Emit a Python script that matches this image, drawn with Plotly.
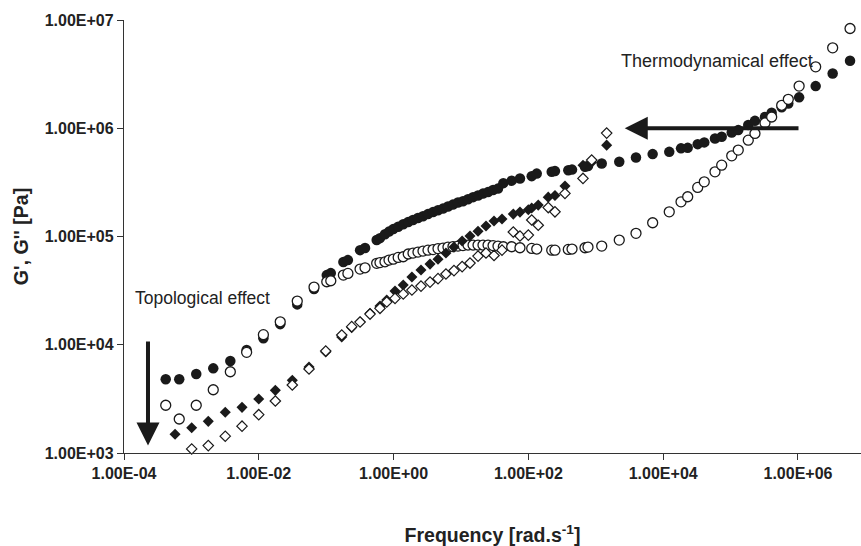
import plotly.graph_objects as go

# ---- data ----
# circles: G' (filled) and G'' (open) share frequencies
freq_c = [4.16e-4, 6.6e-4, 1.18e-3, 2.11e-3, 3.78e-3, 6.6e-3, 1.17e-2, 2.08e-2, 3.72e-2, 6.6e-2,
          0.102, 0.117, 0.18, 0.21, 0.318, 0.377, 0.561, 0.628, 0.745, 0.855,
          0.99, 1.17, 1.39, 1.65, 1.94, 2.30, 2.73, 3.24, 3.85, 4.56,
          5.41, 6.41, 7.60, 9.02, 10.7, 12.7, 15.1, 17.9, 21.2, 25.2,
          29.9, 35.4, 42.5, 56.5, 75, 112, 133, 222, 248, 391,
          444, 692, 766, 1225, 2230, 3950, 6980, 12300, 18400, 23100,
          32500, 40700, 58700, 73800, 1.04e5, 1.30e5, 1.83e5, 2.30e5, 3.24e5, 4.07e5,
          5.73e5, 7.18e5, 1.04e6, 1.83e6, 3.27e6, 5.92e6]
g_fill_c = [4.80e3, 4.80e3, 5.36e3, 6.05e3, 7.08e3, 8.93e3, 1.15e4, 1.55e4, 2.36e4, 3.27e4,
            4.40e4, 4.59e4, 5.81e4, 6.05e4, 7.48e4, 7.82e4, 9.27e4, 9.66e4, 1.05e5, 1.11e5,
            1.17e5, 1.23e5, 1.30e5, 1.36e5, 1.42e5, 1.48e5, 1.54e5, 1.61e5, 1.68e5, 1.75e5,
            1.81e5, 1.89e5, 1.97e5, 2.06e5, 2.12e5, 2.21e5, 2.31e5, 2.39e5, 2.49e5, 2.57e5,
            2.69e5, 2.77e5, 3.11e5, 3.28e5, 3.43e5, 3.61e5, 3.81e5, 3.96e5, 4.02e5, 4.10e5,
            4.15e5, 4.40e5, 4.47e5, 4.73e5, 4.90e5, 5.37e5, 5.77e5, 6.05e5, 6.52e5, 6.59e5,
            7.13e5, 7.40e5, 8.05e5, 8.34e5, 9.14e5, 9.61e5, 1.07e6, 1.17e6, 1.27e6, 1.39e6,
            1.56e6, 1.69e6, 1.93e6, 2.45e6, 3.21e6, 4.20e6]
g_open_c = [2.76e3, 2.06e3, 2.76e3, 3.84e3, 5.63e3, 8.51e3, 1.24e4, 1.63e4, 2.53e4, 3.41e4,
            3.82e4, 3.90e4, 4.40e4, 4.56e4, 5.00e4, 5.14e4, 5.65e4, 5.74e4, 5.84e4, 6.05e4,
            6.18e4, 6.41e4, 6.50e4, 6.89e4, 7.03e4, 7.18e4, 7.33e4, 7.48e4, 7.57e4, 7.73e4,
            7.82e4, 7.98e4, 8.07e4, 8.15e4, 8.24e4, 8.34e4, 8.34e4, 8.34e4, 8.34e4, 8.34e4,
            8.24e4, 8.15e4, 8.04e4, 8.04e4, 7.87e4, 7.76e4, 7.66e4, 7.48e4, 7.48e4, 7.60e4,
            7.66e4, 7.87e4, 7.98e4, 8.15e4, 9.27e4, 1.07e5, 1.34e5, 1.69e5, 2.09e5, 2.33e5,
            2.84e5, 3.20e5, 3.96e5, 4.56e5, 5.56e5, 6.28e5, 7.76e5, 8.95e5, 1.12e6, 1.27e6,
            1.63e6, 1.85e6, 2.45e6, 3.69e6, 5.53e6, 8.35e6]

# diamonds: G' (filled) and G'' (open) share frequencies
freq_d = [5.72e-4, 1.01e-3, 1.78e-3, 3.18e-3, 5.64e-3, 9.98e-3, 1.76e-2, 3.14e-2, 5.56e-2, 9.84e-2,
          0.170, 0.239, 0.318, 0.447, 0.628, 0.791, 1.05, 1.39, 1.87, 2.55,
          3.47, 4.56, 5.98, 7.87, 10.4, 13.6, 17.9, 23.5, 30.9, 40.6,
          59.7, 75.0, 99.8, 112, 140, 197, 248, 349, 646, 869, 1450]
g_fill_d = [1.49e3, 1.71e3, 1.96e3, 2.38e3, 2.64e3, 3.15e3, 3.79e3, 4.69e3, 6.22e3, 8.57e3,
            1.18e4, 1.44e4, 1.63e4, 1.95e4, 2.28e4, 2.59e4, 3.13e4, 3.56e4, 4.22e4, 4.90e4,
            5.56e4, 6.18e4, 7.03e4, 7.98e4, 9.08e4, 1.01e5, 1.12e5, 1.25e5, 1.39e5, 1.45e5,
            1.61e5, 1.68e5, 1.77e5, 1.83e5, 1.95e5, 2.31e5, 2.39e5, 2.92e5, 4.56e5, 4.86e5, 6.98e5]
g_open_d = [9.73e2, 1.09e3, 1.17e3, 1.43e3, 1.77e3, 2.26e3, 3.02e3, 4.25e3, 5.97e3, 8.75e3,
            1.23e4, 1.47e4, 1.62e4, 1.92e4, 2.17e4, 2.48e4, 2.68e4, 2.94e4, 3.20e4, 3.48e4,
            3.79e4, 4.08e4, 4.50e4, 4.84e4, 5.27e4, 5.68e4, 6.59e4, 7.03e4, 6.67e4, 7.48e4,
            1.10e5, 1.01e5, 1.03e5, 1.42e5, 1.27e5, 1.85e5, 1.69e5, 2.50e5, 3.44e5, 5.08e5, 9.02e5]

x_ticks = [1e-4, 1e-2, 1e0, 1e2, 1e4, 1e6]
x_ticktext = ["1.00E-04", "1.00E-02", "1.00E+00", "1.00E+02", "1.00E+04", "1.00E+06"]
y_ticks = [1e3, 1e4, 1e5, 1e6, 1e7]
y_ticktext = ["1.00E+03", "1.00E+04", "1.00E+05", "1.00E+06", "1.00E+07"]

FONT = "Liberation Sans, Arial, sans-serif"
INK = "#1a1a1a"

fig = go.Figure()
fig.add_trace(go.Scatter(x=freq_c, y=g_fill_c, mode="markers", cliponaxis=False,
                         marker=dict(symbol="circle", size=10.5, color=INK, line=dict(width=0))))
fig.add_trace(go.Scatter(x=freq_c, y=g_open_c, mode="markers", cliponaxis=False,
                         marker=dict(symbol="circle", size=10, color="white", line=dict(width=1.3, color=INK))))
fig.add_trace(go.Scatter(x=freq_d, y=g_fill_d, mode="markers", cliponaxis=False,
                         marker=dict(symbol="diamond", size=8.5, color=INK, line=dict(width=0))))
fig.add_trace(go.Scatter(x=freq_d, y=g_open_d, mode="markers", cliponaxis=False,
                         marker=dict(symbol="diamond", size=8, color="white", line=dict(width=1.2, color=INK))))

axis_common = dict(type="log", showgrid=False, zeroline=False, showline=True, linecolor="#333",
                   linewidth=1.3, ticks="outside", ticklen=6, tickcolor="#333", tickwidth=1.3,
                   tickfont=dict(family=FONT, size=16, color="#222", weight="bold"))

fig.update_xaxes(range=[-4, 6.935], tickvals=x_ticks, ticktext=x_ticktext,
                 title=dict(text="Frequency [rad.s<sup>-1</sup>]", standoff=47,
                            font=dict(family=FONT, size=19.5, color="#222", weight="bold")),
                 **axis_common)
fig.update_yaxes(range=[3, 7], tickvals=y_ticks, ticktext=y_ticktext,
                 title=dict(text="G', G'' [Pa]", standoff=10,
                            font=dict(family=FONT, size=19.5, color="#222", weight="bold")),
                 **axis_common)

# arrows and labels (positions in log10 axis units)
fig.add_annotation(x=-3.644, y=3.07, ax=-3.644, ay=4.043, xref="x", yref="y", axref="x", ayref="y",
                   text="", showarrow=True, arrowhead=2, arrowsize=1.15, arrowwidth=4, arrowcolor=INK)
fig.add_annotation(x=3.43, y=6.0, ax=6.03, ay=6.0, xref="x", yref="y", axref="x", ayref="y",
                   text="", showarrow=True, arrowhead=2, arrowsize=1.15, arrowwidth=4, arrowcolor=INK)
fig.add_annotation(x=-3.87, y=4.43, xref="x", yref="y", text="Topological effect", showarrow=False,
                   xanchor="left", yanchor="middle", font=dict(family=FONT, size=17.5, color="#222"))
fig.add_annotation(x=3.34, y=6.62, xref="x", yref="y", text="Thermodynamical effect", showarrow=False,
                   xanchor="left", yanchor="middle", font=dict(family=FONT, size=18, color="#222"))

fig.update_layout(width=861, height=546, margin=dict(l=124, r=0, t=20, b=93),
                  paper_bgcolor="white", plot_bgcolor="white", showlegend=False)

fig.write_html("out.html")
